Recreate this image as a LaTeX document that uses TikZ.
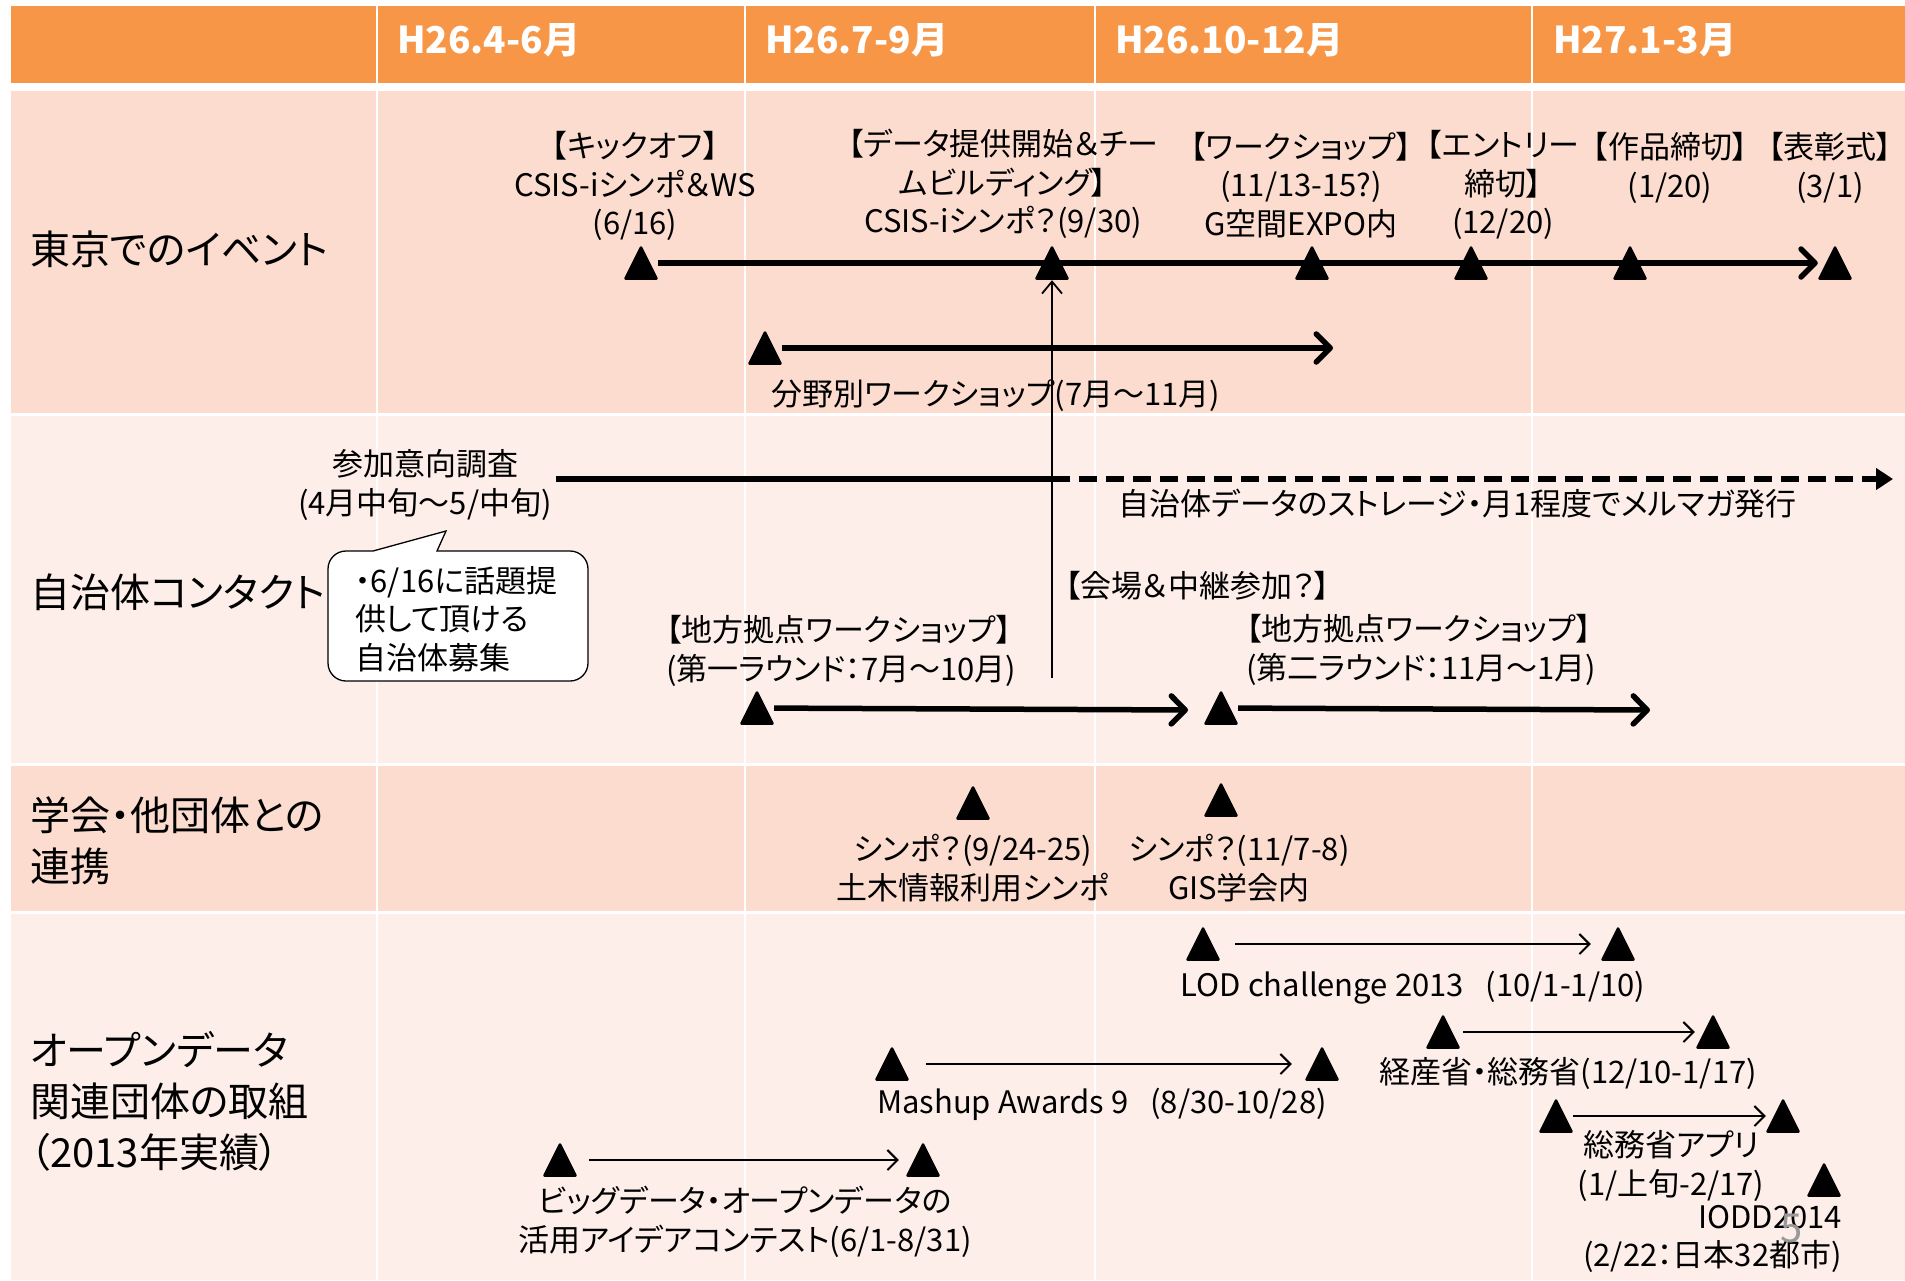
\documentclass[tikz,border=0pt]{standalone}
\usepackage{fontspec}
\setmainfont{Noto Sans CJK JP}[RawFeature=+palt]
\usetikzlibrary{arrows.meta}
\definecolor{hdrorange}{HTML}{F79646}
\definecolor{rowA}{HTML}{FBDCCF}
\definecolor{rowB}{HTML}{FDEEE9}
\begin{document}
\begin{tikzpicture}[x=1pt,y=-1pt,
  tri/.style={minimum width=34,minimum height=34,inner sep=0,
    path picture={\filldraw[black,line width=2.5,line join=round]
      ([xshift=1.5pt,yshift=1.5pt]path picture bounding box.south west) --
      ([xshift=-1.5pt,yshift=1.5pt]path picture bounding box.south east) --
      ([yshift=-1.5pt]path picture bounding box.north) -- cycle;}},
  lbl/.style={font=\fontsize{31}{38.5}\selectfont,align=center,inner sep=0},
  rowtxt/.style={font=\fontsize{40}{51}\selectfont,align=left,anchor=west,inner sep=0},
  hdrtxt/.style={font=\fontsize{37}{40}\selectfont\bfseries,text=white,anchor=west,inner sep=0},
  thk/.style={line width=5.5,-{Straight Barb[length=14pt,width=28pt,round]}},
  thn/.style={line width=2,-{Straight Barb[length=10pt,width=20pt]}},
]
\useasboundingbox (0,0) rectangle (1905,1280);
\fill[white] (0,0) rectangle (1905,1280);
% table background
\fill[hdrorange] (11,6) rectangle (1905,83);
\fill[rowA] (11,91) rectangle (1905,413);
\fill[rowB] (11,416) rectangle (1905,763);
\fill[rowA] (11,766) rectangle (1905,911);
\fill[rowB] (11,914) rectangle (1905,1280);
\foreach \x in {377,745,1095,1532} \draw[white,line width=2.5] (\x,6) -- (\x,1280);

% header
\node[hdrtxt] (h1) at (397,40) {H26.4-6月};
\node[hdrtxt] (h2) at (765,40) {H26.7-9月};
\node[hdrtxt] (h3) at (1115,40) {H26.10-12月};
\node[hdrtxt] (h4) at (1553,40) {H27.1-3月};

% row labels
\node[rowtxt] (r1) at (30,249) {東京でのイベント};
\node[rowtxt] (r2) at (30,592) {自治体コンタクト};
\node[rowtxt] (r3) at (30,841) {学会・他団体との\\連携};
\node[rowtxt] (r4) at (30,1101) {オープンデータ\\関連団体の取組\\（2013年実績）};

% row 1 : Tokyo events
\node[tri] (t1) at (641,263) {};
\node[tri] (t2) at (1052,263) {};
\node[tri] (t3) at (1312,263) {};
\node[tri] (t4) at (1471,263) {};
\node[tri] (t5) at (1630,263) {};
\node[tri] (t6) at (1835,263) {};
\draw[thk] (t1) -- (t6);
\node[lbl] (e1) at (635,186) {【キックオフ】\\CSIS-iシンポ＆WS\\(6/16)};
\node[lbl] (e2) at (1003,184) {【データ提供開始＆チー\\ムビルディング】\\CSIS-iシンポ？(9/30)};
\node[lbl] (e3) at (1301,185) {【ワークショップ】\\(11/13-15?)\\G空間EXPO内};
\node[lbl] (e4) at (1503,185) {【エントリー\\締切】\\(12/20)};
\node[lbl] (e5) at (1670,168) {【作品締切】\\(1/20)};
\node[lbl] (e6) at (1830,168) {【表彰式】\\(3/1)};

\node[tri] (ta) at (765,348) {};
\coordinate (taend) at (1333,348);
\draw[thk] (ta) -- (taend);
\node[lbl,anchor=west] (fw) at (771,396) {分野別ワークショップ(7月～11月)};

% vertical connector
\coordinate (vbot) at (1052,678);
\draw[line width=1.8,-{Straight Barb[length=12pt,width=20pt]}] (vbot) -- (t2.south);

% row 2 : municipalities
\node[lbl] (q1) at (425,485) {参加意向調査\\(4月中旬～5/中旬)};
\coordinate (s0) at (556,479);
\coordinate (s1) at (vbot |- s0);
\coordinate (s2) at (1893,479);
\draw[line width=5.5] (s0) -- (s1);
\draw[line width=5.5,dash pattern=on 18pt off 9pt,-{Triangle[length=17pt,width=21pt]}] (s1) -- (s2);
\node[lbl,anchor=west] (q2) at (1118,504) {自治体データのストレージ・月1程度でメルマガ発行};

\filldraw[fill=white,draw=black,line width=1.3] (437,551) [rounded corners=18] -- (588,551) -- (588,681) -- (328,681) -- (328,551) [sharp corners] -- (373,551) -- (446,531) -- cycle;
\node[lbl,align=left,anchor=west] (cb) at (355,619) {・6/16に話題提\\供して頂ける\\自治体募集};

\node[lbl,anchor=west] (q3) at (1065,586) {【会場＆中継参加？】};
\node[lbl,anchor=west,align=left] (q4) at (666,651) {【地方拠点ワークショップ】\\(第一ラウンド：7月～10月)};
\node[lbl,anchor=west,align=left] (q5) at (1246,650) {【地方拠点ワークショップ】\\(第二ラウンド：11月～1月)};
\node[tri] (tb1) at (757,708) {};
\coordinate (tb1end) at (1188,710);
\draw[thk] (tb1) -- (tb1end);
\node[tri] (tb2) at (1221,708) {};
\coordinate (tb2end) at (1650,710);
\draw[thk] (tb2) -- (tb2end);

% row 3 : societies
\node[tri] (tc1) at (973,803) {};
\node[tri] (tc2) at (1221,800) {};
\node[lbl] (g1) at (973,868) {シンポ？(9/24-25)\\土木情報利用シンポ};
\node[lbl] (g2) at (1239,868) {シンポ？(11/7-8)\\GIS学会内};

% row 4 : open data
\node[tri] (td1) at (1203,944) {};
\node[tri] (td2) at (1618,944) {};
\draw[thn,shorten <=15,shorten >=10] (td1) -- (td2);
\node[lbl] (l1) at (1413,988) {LOD challenge 2013\hspace{22pt}(10/1-1/10)};

\node[tri] (tf1) at (1443,1032) {};
\node[tri] (tf2) at (1713,1032) {};
\draw[thn,shorten <=3,shorten >=1] (tf1) -- (tf2);
\node[lbl] (l2) at (1568,1073) {経産省・総務省(12/10-1/17)};

\node[tri] (tm1) at (892,1064) {};
\node[tri] (tm2) at (1322,1064) {};
\draw[thn,shorten <=17,shorten >=13] (tm1) -- (tm2);
\node[lbl] (l3) at (1102,1104) {Mashup Awards 9\hspace{22pt}(8/30-10/28)};

\node[tri] (tg1) at (1556,1116) {};
\node[tri] (tg2) at (1783,1116) {};
\draw[thn] (tg1) -- (tg2);
\node[lbl] (l4) at (1671,1166) {総務省アプリ\\(1/上旬-2/17)};

\node[tri] (ti) at (1824,1180) {};
\node[lbl,align=right,anchor=east] (l5) at (1842,1239) {IODD2014\\(2/22：日本32都市)};
\node[text=gray!80,font=\fontsize{40}{40}\selectfont,inner sep=0] (pg) at (1792,1228) {5};

\node[tri] (tk1) at (560,1160) {};
\node[tri] (tk2) at (923,1160) {};
\draw[thn,shorten <=12,shorten >=7] (tk1) -- (tk2);
\node[lbl] (l6) at (745,1222) {ビッグデータ・オープンデータの\\活用アイデアコンテスト(6/1-8/31)};
\end{tikzpicture}
\end{document}
